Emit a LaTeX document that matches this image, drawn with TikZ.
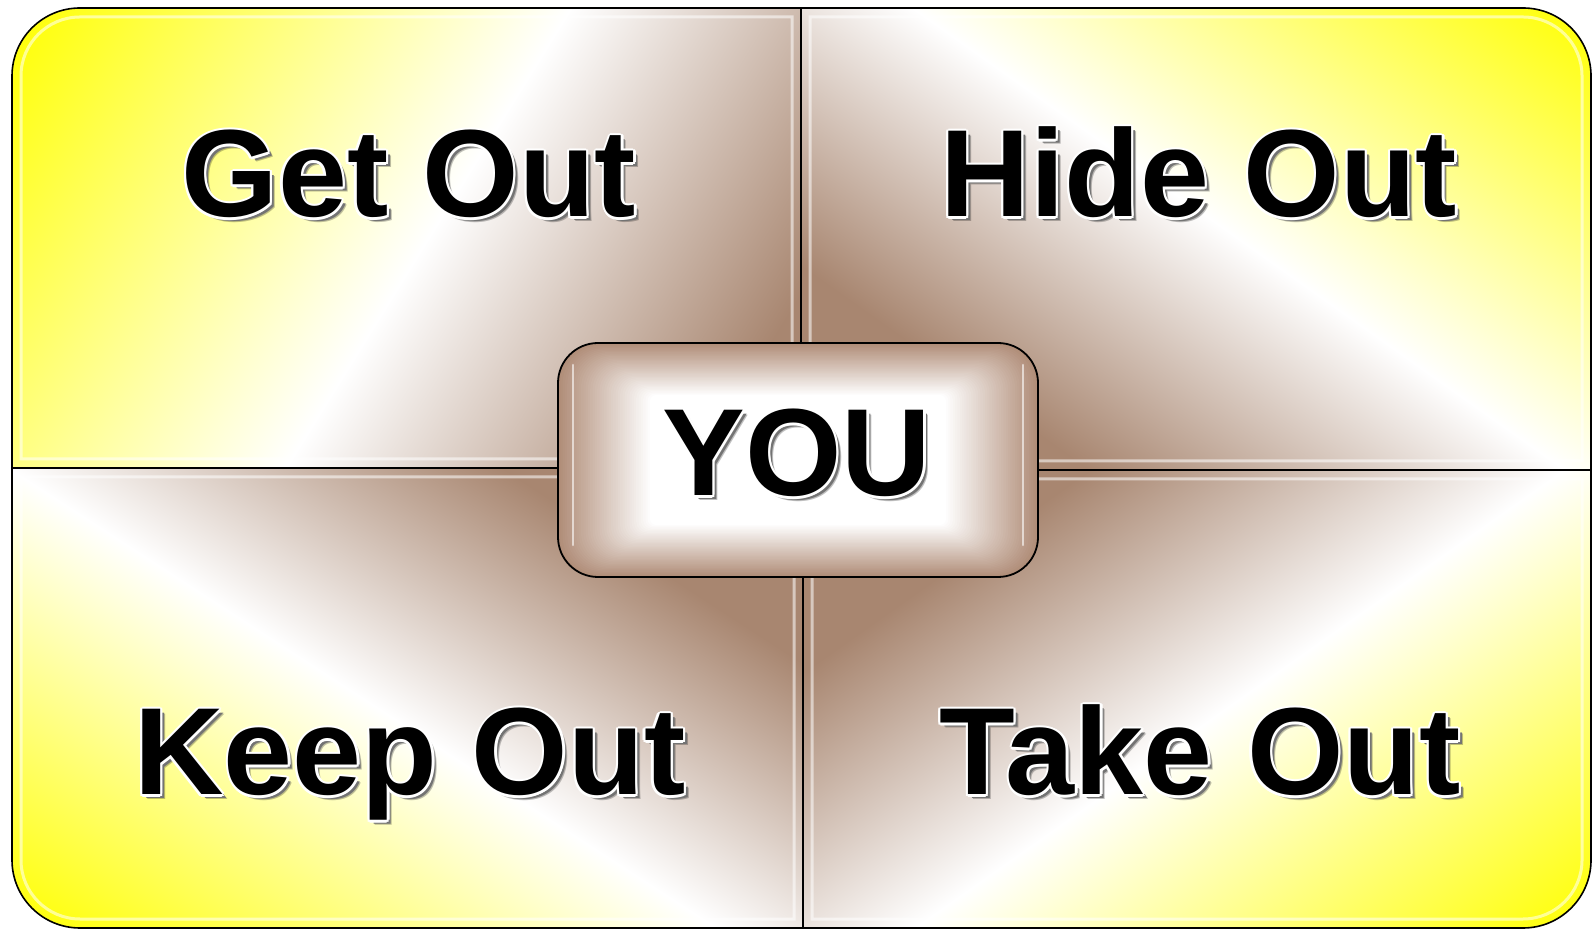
\documentclass[tikz,border=0pt]{standalone}
\usepackage{fontspec}
\setmainfont{Liberation Sans}
\usetikzlibrary{calc}
\definecolor{qy}{RGB}{255,255,0}
\definecolor{qb}{RGB}{168,134,112}
\definecolor{qb2}{RGB}{176,141,120}
\pgfdeclarehorizontalshading{quadshade}{100bp}{color(0bp)=(qy); color(25bp)=(qy); color(48.5bp)=(white); color(65bp)=(qb); color(100bp)=(qb)}
\pgfdeclarehorizontalshading{quadshadetl}{100bp}{color(0bp)=(qy); color(25bp)=(qy); color(51bp)=(white); color(70bp)=(qb); color(100bp)=(qb)}

\newcommand\quadfill[5]{%
  \begin{scope}
    \clip #1;
    \begin{scope}[transform canvas={shift={#2}, rotate=#3}]
      \shade[shading=#5] (0pt,-700pt) rectangle (#4,700pt);
    \end{scope}
  \end{scope}}

\newcommand\fancytext[3]{%
  \node[lbl, text=black, opacity=0.25] (#1-sb) at ($(#2)+(5,-5)$) {#3};
  \node[lbl, text=black!55] (#1-sh) at ($(#2)+(4,-4)$) {#3};
  \foreach \a in {0,30,...,330}{\node[lbl, text=white] (#1-w\a) at ($(#2)+(\a:2.2)$) {#3};}
  \node[lbl, text=black] (#1) at (#2) {#3};}

\tikzset{
  lbl/.style={font=\fontsize{62}{70}\selectfont\bfseries, inner sep=0pt, anchor=base},
  quadline/.style={draw=black, line width=0.8pt},
  bevel/.style={draw=white, line width=1.5pt, opacity=0.55},
}

\begin{document}
\begin{tikzpicture}[x=0.5pt,y=0.5pt]
\useasboundingbox (0,0) rectangle (1594,931);

% quadrant gradients
\quadfill{(12,463) -- (12,855) arc[start angle=180,end angle=90,radius=34pt] -- (801,923) -- (801,463) -- cycle}{(12,923)}{-31.8}{456.5pt}{quadshadetl}
\quadfill{(801,923) -- (1523,923) arc[start angle=90,end angle=0,radius=34pt] -- (1591,461) -- (801,461) -- cycle}{(1591,923)}{-125.3}{417pt}{quadshade}
\quadfill{(12,463) -- (803,463) -- (803,3) -- (80,3) arc[start angle=270,end angle=180,radius=34pt] -- cycle}{(12,3)}{57}{408pt}{quadshade}
\quadfill{(803,461) -- (1591,461) -- (1591,71) arc[start angle=0,end angle=-90,radius=34pt] -- (803,3) -- cycle}{(1591,3)}{125.2}{414.5pt}{quadshade}

% bevel highlights
\path[bevel] (21,472) -- (21,855) arc[start angle=180,end angle=90,radius=29.5pt] -- (792,914) -- (792,472) -- cycle;
\path[bevel] (810,914) -- (1523,914) arc[start angle=90,end angle=0,radius=29.5pt] -- (1582,470) -- (810,470) -- cycle;
\path[bevel] (21,454) -- (794,454) -- (794,12) -- (80,12) arc[start angle=270,end angle=180,radius=29.5pt] -- cycle;
\path[bevel] (812,452) -- (1582,452) -- (1582,71) arc[start angle=0,end angle=-90,radius=29.5pt] -- (812,12) -- cycle;

% quadrant outlines
\path[quadline] (12,463) -- (12,855) arc[start angle=180,end angle=90,radius=34pt] -- (801,923) -- (801,463) -- cycle;
\path[quadline] (801,923) -- (1523,923) arc[start angle=90,end angle=0,radius=34pt] -- (1591,461) -- (801,461) -- cycle;
\path[quadline] (12,463) -- (803,463) -- (803,3) -- (80,3) arc[start angle=270,end angle=180,radius=34pt] -- cycle;
\path[quadline] (803,461) -- (1591,461) -- (1591,71) arc[start angle=0,end angle=-90,radius=34pt] -- (803,3) -- cycle;

% YOU box
\foreach \i in {0,...,40}{
  \pgfmathsetmacro\f{\i/40}
  \pgfmathsetmacro\p{2.5*\i}
  \pgfmathsetmacro\r{20-17*\f}
  \fill[white!\p!qb2, rounded corners=\r pt] ({558+92*\f},{354+52*\f}) rectangle ({1038-92*\f},{588-52*\f});
}
\draw[white, opacity=0.6, line width=1.3pt, line cap=round] (573,386) -- (573,566);
\draw[white, opacity=0.6, line width=1.3pt, line cap=round] (1023,386) -- (1023,566);
\node[draw=black, line width=0.9pt, rounded corners=20pt, minimum width=240pt, minimum height=117pt, inner sep=0pt] (youbox) at (798,471) {};

% labels
\coordinate (pget) at (409,714);
\coordinate (phide) at (1199,714);
\coordinate (pkeep) at (410,136);
\coordinate (ptake) at (1200,136);
\coordinate (pyou) at (797,435);
\fancytext{get}{pget}{Get Out}
\fancytext{hide}{phide}{Hide Out}
\fancytext{keep}{pkeep}{Keep Out}
\fancytext{take}{ptake}{Take Out}
\fancytext{you}{pyou}{YOU}
\end{tikzpicture}
\end{document}
